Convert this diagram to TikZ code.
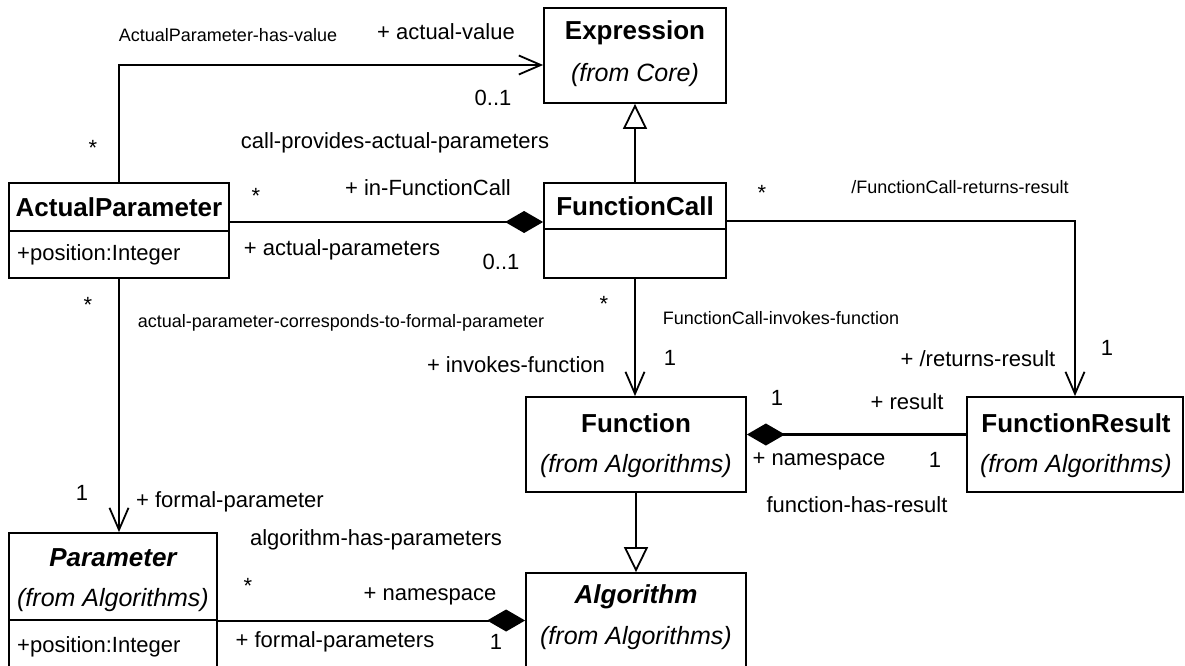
\documentclass[tikz,border=0pt]{standalone}
\usepackage{fontspec}
\setmainfont{Liberation Sans}
\usetikzlibrary{arrows.meta}
\begin{document}
\begin{tikzpicture}[x=1pt,y=-1pt,
  cls/.style={draw, line width=1.8pt, fill=white, inner sep=0pt},
  ttl/.style={inner sep=0pt, font=\fontsize{26}{28}\selectfont\bfseries},
  ittl/.style={inner sep=0pt, font=\fontsize{26}{28}\selectfont\bfseries\itshape},
  frm/.style={inner sep=0pt, font=\fontsize{25}{27}\selectfont\itshape},
  attr/.style={inner sep=0pt, anchor=west, font=\fontsize{22}{24}\selectfont},
  lab/.style={inner sep=0pt, text height=0.72em, text depth=0.2em, font=\fontsize{22}{24}\selectfont},
  sml/.style={inner sep=0pt, text height=0.72em, text depth=0.2em, font=\fontsize{18}{20}\selectfont},
  assoc/.style={line width=1.8pt, -{Straight Barb[length=22pt,width=19pt,line width=1.8pt]}},
  gen/.style={line width=2.8pt, -{Triangle[open,length=25pt,width=24pt,line width=1.8pt]}},
  comp/.style={line width=2pt, -{Diamond[length=38pt,width=22pt]}},
  compthick/.style={line width=3pt, -{Diamond[length=38pt,width=22pt]}},
  divider/.style={line width=1.8pt}
]
\useasboundingbox (0,0) rectangle (1185,666);
\fill[white] (0,0) rectangle (1185,666);
\clip (0,0) rectangle (1185,666);

% class boxes
\node[cls, minimum width=182pt, minimum height=95pt] (expr) at (635,55.5) {};
\node[cls, minimum width=182pt, minimum height=95pt] (fc) at (635,230.5) {};
\node[cls, minimum width=220pt, minimum height=95pt] (ap) at (119,230.5) {};
\node[cls, minimum width=220pt, minimum height=95pt] (fn) at (636,444.5) {};
\node[cls, minimum width=216pt, minimum height=95pt] (fr) at (1075,444.5) {};
\node[cls, minimum width=220pt, minimum height=95pt] (alg) at (636,620.5) {};
\node[cls, minimum width=208pt, minimum height=143pt] (param) at (113,604.5) {};

% dividers
\draw[divider] ([yshift=-0.5pt]ap.west) -- ([yshift=-0.5pt]ap.east);
\draw[divider] ([yshift=1.5pt]fc.west) -- ([yshift=1.5pt]fc.east);
\draw[divider] ([yshift=-15.5pt]param.west) -- ([yshift=-15.5pt]param.east);

% class texts
\node[ttl] (exprT) at (635,33) {Expression};
\node[frm] (exprF) at (635,75) {(from Core)};
\node[ttl] (fcT) at (635,206) {FunctionCall};
\node[ttl] (apT) at (119,207) {ActualParameter};
\node[attr] (apA) at (17,255) {+position:Integer};
\node[ttl] (fnT) at (636,423) {Function};
\node[frm] (fnF) at (636,466) {(from Algorithms)};
\node[ttl] (frT) at (1076,423) {FunctionResult};
\node[frm] (frF) at (1076,466) {(from Algorithms)};
\node[ittl] (algT) at (636,597) {Algorithm};
\node[frm] (algF) at (636,638) {(from Algorithms)};
\node[ittl] (paramT) at (113,558) {Parameter};
\node[frm] (paramF) at (113,600) {(from Algorithms)};
\node[attr] (paramA) at (17,647) {+position:Integer};

% connectors
\draw[assoc] (ap.north) |- ([yshift=-9.5pt]expr.west);
\draw[gen] (fc.north) -- (expr.south);
\draw[comp] ([yshift=8.5pt]ap.east) -- ([yshift=8.5pt]fc.west);
\draw[assoc] ([yshift=9.5pt]fc.east) -| (fr.north);
\draw[assoc, line width=2.8pt] (fc.south) -- (fc.south |- fn.north);
\draw[compthick] ([yshift=10pt]fr.west) -- ([yshift=10pt]fn.east);
\draw[gen] (fn.south) -- (alg.north);
\draw[assoc] (ap.south) -- (ap.south |- param.north);
\draw[comp] (param.east |- alg.west) -- (alg.west);

% labels
\node[sml] (l1) at (228,39) {ActualParameter-has-value};
\node[lab] (l2) at (446,37) {+ actual-value};
\node[lab] (l3) at (493,103) {0..1};
\node[lab] (l4) at (93,153) {*};
\node[lab] (l5) at (395,146) {call-provides-actual-parameters};
\node[lab] (l6) at (256,201) {*};
\node[lab] (l7) at (428,193) {+ in-FunctionCall};
\node[lab] (l8) at (342,253) {+ actual-parameters};
\node[lab] (l9) at (501,267) {0..1};
\node[lab] (l10) at (762,198) {*};
\node[sml] (l11) at (960,191) {/FunctionCall-returns-result};
\node[lab] (l12) at (88,310) {*};
\node[sml] (l13) at (341,325) {actual-parameter-corresponds-to-formal-parameter};
\node[lab] (l14) at (604,309) {*};
\node[sml] (l15) at (781,322) {FunctionCall-invokes-function};
\node[lab] (l16) at (670,363) {1};
\node[lab] (l17) at (516,370) {+ invokes-function};
\node[lab] (l18) at (978,364) {+ /returns-result};
\node[lab] (l19) at (1107,353) {1};
\node[lab] (l20) at (777,403) {1};
\node[lab] (l21) at (907,407) {+ result};
\node[lab] (l22) at (819,463) {+ namespace};
\node[lab] (l23) at (935,465) {1};
\node[lab] (l24) at (857,510) {function-has-result};
\node[lab] (l25) at (82,498) {1};
\node[lab] (l26) at (230,505) {+ formal-parameter};
\node[lab] (l27) at (376,543) {algorithm-has-parameters};
\node[lab] (l28) at (248,591) {*};
\node[lab] (l29) at (430,598) {+ namespace};
\node[lab] (l30) at (335,645) {+ formal-parameters};
\node[lab] (l31) at (496,647) {1};
\end{tikzpicture}
\end{document}
